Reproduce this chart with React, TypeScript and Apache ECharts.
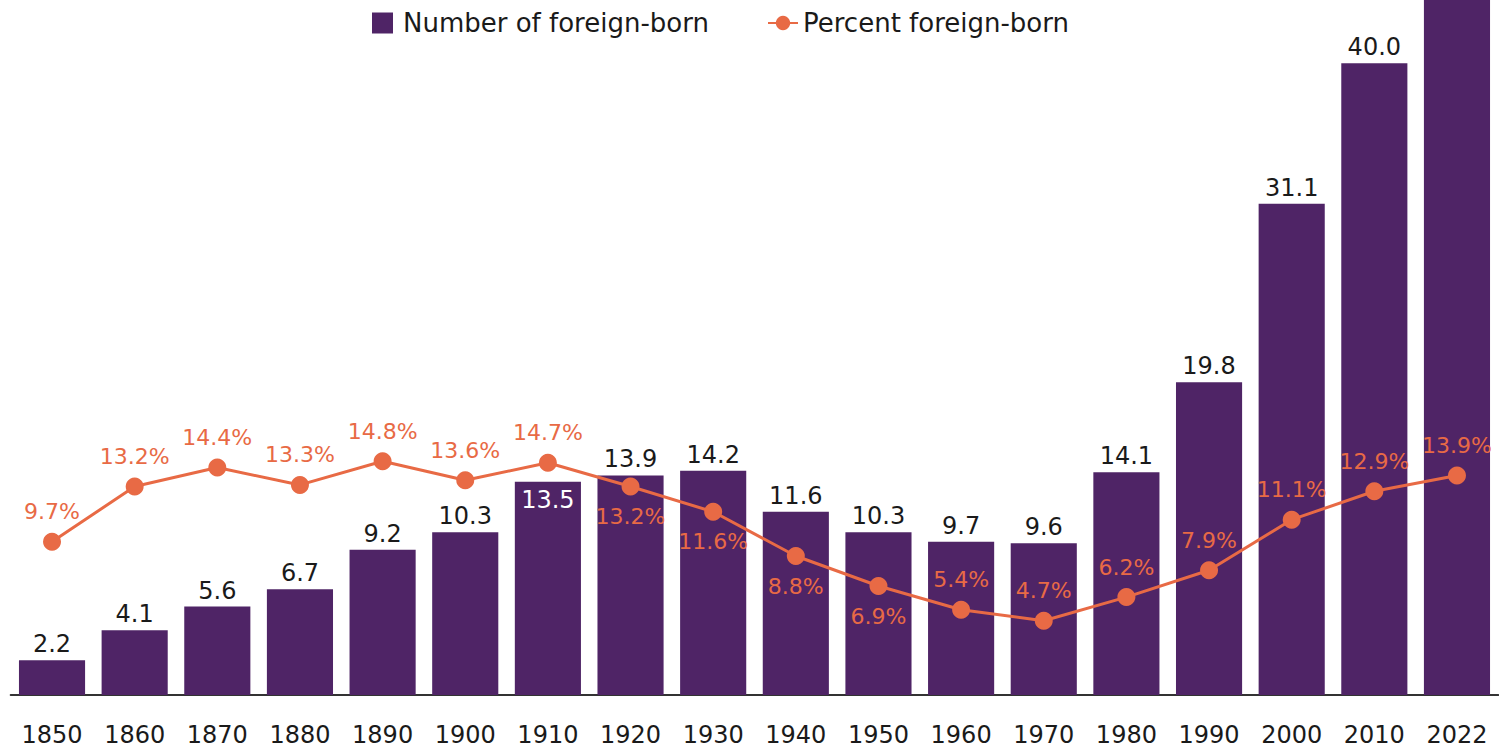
import React, { useEffect, useRef } from "react";
import * as echarts from "echarts";

const years = ["1850", "1860", "1870", "1880", "1890", "1900", "1910", "1920", "1930", "1940", "1950", "1960", "1970", "1980", "1990", "2000", "2010", "2022"];
const numberForeignBorn = [2.2, 4.1, 5.6, 6.7, 9.2, 10.3, 13.5, 13.9, 14.2, 11.6, 10.3, 9.7, 9.6, 14.1, 19.8, 31.1, 40.0, 46.2];
const percentForeignBorn = [9.7, 13.2, 14.4, 13.3, 14.8, 13.6, 14.7, 13.2, 11.6, 8.8, 6.9, 5.4, 4.7, 6.2, 7.9, 11.1, 12.9, 13.9];
const percentLabelBelow = ["1920", "1930", "1940", "1950"];
const barLabelInside = ["1910"];
const barLabelHidden = ["2022"];

const PURPLE = "#4f2466";
const ORANGE = "#e86a45";
const FONT = "DejaVu Sans";

export default function App() {
  const ref = useRef<HTMLDivElement>(null);
  useEffect(() => {
    if (!ref.current) return;
    const chart = echarts.init(ref.current, undefined, { renderer: "svg" });
    const barData = numberForeignBorn.map((v, i) => {
      const y = years[i];
      if (barLabelHidden.includes(y)) return { value: v, label: { show: false } };
      if (barLabelInside.includes(y))
        return { value: v, label: { position: "insideTop", color: "#ffffff", distance: 6 } };
      return { value: v };
    });
    const lineData = percentForeignBorn.map((v, i) => ({
      value: v,
      label: { position: percentLabelBelow.includes(years[i]) ? "bottom" : "top" },
    }));
    chart.setOption({
      animation: false,
      legend: [
        {
          data: [{ name: "Number of foreign-born", icon: "rect" }],
          left: 367,
          top: 5,
          itemWidth: 21,
          itemHeight: 21,
          textStyle: { fontFamily: FONT, fontSize: 26, color: "#1a1a1a", padding: [0, 0, 0, 5] },
        },
        {
          data: ["Percent foreign-born"],
          left: 762,
          top: 5,
          itemWidth: 30,
          itemHeight: 18,
          textStyle: { fontFamily: FONT, fontSize: 26, color: "#1a1a1a", padding: [0, 0, 0, 0] },
        },
      ],
      grid: { left: 10.7, right: 0.7, top: 0, bottom: 56, containLabel: false },
      xAxis: {
        type: "category",
        data: years,
        axisLine: { lineStyle: { color: "#333333", width: 2 } },
        axisTick: { show: false },
        axisLabel: { fontFamily: FONT, fontSize: 24, color: "#1a1a1a", margin: 28 },
      },
      yAxis: {
        type: "value",
        min: 0,
        max: 44,
        show: false,
        splitLine: { show: false },
      },
      series: [
        {
          name: "Number of foreign-born",
          type: "bar",
          data: barData,
          barWidth: "80%",
          clip: true,
          itemStyle: { color: PURPLE },
          label: {
            show: true,
            position: "top",
            distance: 4,
            fontFamily: FONT,
            fontSize: 24,
            color: "#1a1a1a",
            formatter: (p: any) => Number(p.value).toFixed(1),
          },
          z: 2,
        },
        {
          name: "Percent foreign-born",
          type: "line",
          data: lineData,
          symbol: "circle",
          symbolSize: 18,
          lineStyle: { color: ORANGE, width: 3 },
          itemStyle: { color: ORANGE },
          label: {
            show: true,
            distance: 10,
            fontFamily: FONT,
            fontSize: 22,
            color: ORANGE,
            formatter: (p: any) => `${Number(p.value).toFixed(1)}%`,
          },
          z: 3,
        },
      ],
    });
    return () => chart.dispose();
  }, []);
  return (
    <div
      ref={ref}
      style={{ position: "fixed", left: 0, top: 0, width: 1499, height: 751, background: "#ffffff" }}
    />
  );
}
